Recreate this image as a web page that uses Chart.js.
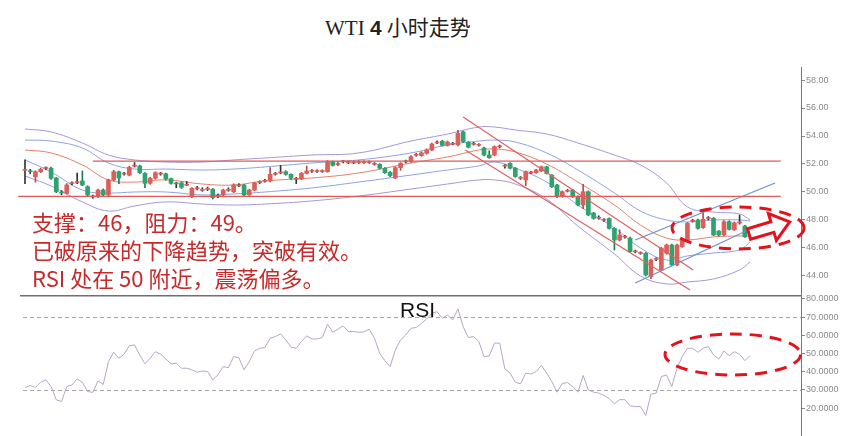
<!DOCTYPE html>
<html><head><meta charset="utf-8">
<script src="https://cdn.jsdelivr.net/npm/chart.js@4.4.1/dist/chart.umd.min.js"></script>
<style>
html,body{margin:0;padding:0;background:#fff;}
#wrap{position:relative;width:843px;height:436px;overflow:hidden;background:#fff;}
canvas{position:absolute;left:0;}
#title{position:absolute;left:325px;top:12px;font-size:21px;line-height:28px;color:#222;white-space:nowrap;}
#note{position:absolute;left:32px;top:207px;font-family:"Noto Sans CJK SC";font-size:22px;line-height:28px;color:#c62a2a;white-space:nowrap;}
#rsiLabel{position:absolute;left:400px;top:299px;font-family:"Liberation Sans";font-size:21px;line-height:21px;color:#111;}
</style></head>
<body>
<div id="wrap">
  <canvas id="price" width="843" height="235" style="top:60px"></canvas>
  <canvas id="rsi" width="843" height="141" style="top:295px"></canvas>
  <div id="title"><span style="font-family:'Liberation Serif'">WTI</span> <span style="font-family:'Liberation Sans';font-weight:bold">4</span> <span style="font-family:'Noto Sans CJK SC'">小时走势</span></div>
  <div id="note">支撑：46，阻力：49。<br>已破原来的下降趋势，突破有效。<br>RSI 处在 50 附近，震荡偏多。</div>
  <div id="rsiLabel">RSI</div>
</div>
<script>
// ---- candle data (4h bars, index = bar number) ----
const openP = [51.55,51.50,51.09,51.45,51.68,51.70,51.00,49.97,49.90,50.60,
50.68,50.79,50.38,49.69,49.67,50.14,49.79,50.86,51.45,51.28,
51.21,51.84,51.86,51.33,50.62,50.98,51.28,51.30,50.95,50.62,
50.65,50.48,49.67,50.24,50.12,50.18,50.20,49.69,49.79,50.12,
50.02,50.43,50.50,49.80,50.14,50.68,50.77,50.79,51.27,51.36,
51.45,51.26,50.91,50.93,51.33,51.48,51.46,51.46,51.45,52.17,
51.96,52.15,52.08,52.08,52.10,52.10,52.10,51.98,51.98,51.70,
51.40,51.00,51.74,52.15,52.17,52.62,52.60,52.76,53.00,53.50,
53.62,53.33,53.41,53.36,54.30,53.55,53.41,53.34,53.14,52.64,
52.64,53.22,51.84,52.05,51.70,50.98,50.86,51.36,51.38,51.50,
51.80,51.20,50.50,49.67,50.05,50.14,49.67,49.07,50.02,48.50,
48.12,47.98,48.10,47.40,46.57,46.77,46.70,45.72,45.60,45.62,
43.95,45.18,44.43,45.62,46.21,44.79,46.10,46.57,47.91,48.00,
47.45,48.10,48.12,47.20,46.93,47.88,47.30,47.79,47.57,47.27];
const highP = [52.30,51.62,51.52,51.70,51.80,51.78,51.05,50.10,50.60,50.72,
51.35,51.50,50.45,49.78,50.20,50.22,50.92,51.55,51.50,51.40,
51.85,52.10,51.92,51.38,51.05,51.45,51.40,51.35,51.00,50.70,
50.72,50.75,50.32,50.40,50.30,50.35,50.25,49.85,50.20,50.30,
50.58,50.60,50.55,50.20,50.70,50.80,50.90,51.74,51.40,51.90,
51.52,51.30,51.05,51.40,51.85,51.60,51.58,51.58,52.25,52.22,
52.10,52.25,52.20,52.20,52.22,52.22,52.22,52.10,52.02,51.75,
51.45,51.80,52.10,52.28,52.60,52.75,52.88,53.08,53.50,53.65,
53.70,53.64,53.55,54.40,54.36,53.60,53.55,53.45,53.20,52.95,
53.30,53.36,51.95,52.10,51.75,51.10,51.50,51.48,51.62,51.86,
51.85,51.25,50.55,50.08,50.18,50.20,49.72,50.55,50.08,48.55,
48.30,48.10,48.15,47.45,47.30,46.90,46.78,45.85,45.72,45.68,
45.20,45.30,46.05,46.28,46.28,46.28,46.64,47.82,48.05,48.06,
48.60,48.25,48.18,47.25,47.95,47.94,47.86,48.35,47.62,47.40];
const lowP = [50.60,51.30,50.70,51.38,51.60,50.90,49.95,49.80,49.85,50.50,
50.60,50.45,49.70,49.55,49.60,49.70,49.72,50.80,50.60,51.20,
51.15,51.78,51.30,50.30,50.55,50.92,51.20,50.85,50.55,50.30,
50.25,50.45,49.60,50.15,50.05,50.10,49.50,49.60,49.72,50.05,
49.95,50.38,49.72,49.75,50.08,50.60,50.70,50.72,51.20,51.30,
51.20,50.90,50.60,50.88,51.28,51.40,51.40,51.40,51.40,51.85,
51.90,52.08,52.02,52.02,52.04,52.04,52.04,51.92,51.65,51.32,
51.10,50.95,51.55,52.08,52.12,52.55,52.55,52.70,52.95,53.45,
53.28,53.28,53.36,53.30,53.55,53.15,53.35,53.28,52.58,52.40,
52.58,53.15,51.70,51.65,51.05,50.90,50.45,51.30,51.33,51.45,
51.28,50.32,49.60,49.62,50.00,49.60,49.00,48.80,48.30,48.05,
48.05,47.90,47.35,45.86,46.50,46.70,45.68,45.65,45.55,44.00,
43.80,45.10,44.38,45.55,44.72,44.72,46.04,46.50,47.85,47.35,
47.40,48.00,46.88,46.85,46.88,47.28,47.25,47.70,46.75,47.20];
const closeP = [51.60,51.45,51.45,51.62,51.72,50.98,50.02,49.93,50.50,50.64,
50.72,50.50,49.79,49.65,50.14,49.79,50.86,51.45,51.00,51.32,
51.76,51.88,51.38,50.62,50.98,51.38,51.32,50.93,50.62,50.58,
50.33,50.52,50.26,50.28,50.16,50.22,49.60,49.73,50.14,50.16,
50.50,50.47,49.79,50.14,50.64,50.72,50.81,51.26,51.31,51.40,
51.26,50.98,50.95,51.33,51.50,51.52,51.50,51.50,52.17,51.90,
52.00,52.19,52.12,52.12,52.14,52.14,52.14,52.02,51.70,51.38,
51.17,51.74,52.05,52.19,52.52,52.66,52.80,53.00,53.43,53.54,
53.33,53.57,53.45,54.19,53.60,53.20,53.45,53.38,52.64,52.45,
53.24,53.26,51.88,51.70,51.10,51.02,51.45,51.40,51.57,51.80,
51.33,50.38,49.67,50.02,50.09,49.67,49.07,50.02,48.36,48.12,
48.16,48.02,47.40,46.57,46.93,46.81,45.74,45.76,45.64,44.07,
45.14,45.22,45.98,46.21,44.79,46.21,46.57,47.76,47.95,47.40,
48.05,48.14,46.93,46.93,47.88,47.33,47.80,47.83,46.80,47.31];

// ---- Bollinger bands / moving average, read at key bars ----
const bandBars   = [0,5,11,16,21,27,34,40,46,55,64,74,81,87,90,94,100,106,113,118,123,127,132,137,139];
const outerUpper = [54.50,54.29,53.50,52.64,52.29,52.14,52.14,52.29,52.43,52.64,52.79,53.64,54.14,54.64,54.64,54.43,54.14,53.50,52.64,51.93,50.64,48.93,48.57,48.43,48.00];
const innerUpper = [53.71,53.64,53.14,52.07,51.64,51.64,51.57,51.64,51.79,52.07,52.29,52.79,53.36,53.64,53.71,53.57,52.79,51.57,49.93,48.64,48.00,47.86,48.00,48.00,47.93];
const midAvg     = [53.00,52.79,51.93,50.86,50.71,50.86,50.57,50.50,50.79,51.00,51.36,52.07,52.50,53.00,53.07,52.86,52.00,50.71,49.07,47.64,46.71,46.57,46.79,46.86,46.86];
const innerLower = [52.29,51.43,50.14,49.93,50.00,50.00,49.79,49.86,50.00,50.29,50.71,51.21,51.57,51.86,52.14,51.71,50.71,49.07,47.43,46.00,45.14,45.43,45.64,45.86,46.43];
const outerLower = [51.14,50.43,49.29,48.64,49.00,49.29,49.14,49.07,49.14,49.36,49.71,50.21,50.57,50.86,50.86,50.57,49.50,47.57,45.57,44.00,43.43,43.57,43.79,44.43,45.00];

// ---- analysis lines: [barStart, priceStart, barEnd, priceEnd] ----
const resistanceLine = [13.0, 52.21, 144.9, 52.21];
const supportLine    = [-1.3, 49.68, 144.9, 49.68];
const downUpper      = [84.0, 55.36, 128.1, 44.43];
const downLower      = [84.4, 53.00, 127.5, 43.00];
const upUpper        = [117.0, 46.57, 143.8, 50.64];
const upLower        = [117.0, 43.50, 140.3, 47.57];

// ---- RSI ----
const rsiValues = [31.3,32.4,31.3,34.2,35.5,31.8,24.5,23.6,31.8,32.7,
36.0,34.2,29.1,28.6,34.9,33.0,45.6,50.7,47.4,49.6,
54.3,54.7,49.2,44.3,47.4,51.0,49.6,47.0,44.3,44.7,
41.9,41.9,41.0,39.7,40.4,40.1,35.5,38.3,42.8,42.2,
48.3,47.7,41.0,45.6,51.4,52.9,53.3,58.4,59.3,60.8,
57.5,53.5,52.9,56.6,59.7,58.0,58.0,58.8,66.1,61.7,
63.4,65.2,62.1,62.1,61.7,61.9,63.4,58.4,50.2,46.0,
42.8,51.9,57.5,60.2,63.9,64.3,66.6,69.0,72.1,73.0,
69.4,71.2,68.5,74.5,64.8,58.8,59.3,56.6,48.3,48.7,
55.7,55.7,41.5,39.2,34.2,33.3,39.2,38.7,40.1,43.4,
39.2,34.6,28.7,33.5,34.0,31.8,28.7,37.9,30.0,28.7,
28.2,26.9,25.1,22.3,24.6,24.6,21.2,20.8,20.8,15.9,
27.6,28.2,37.3,38.2,31.8,41.9,48.3,52.9,52.9,50.7,
52.9,53.8,49.2,46.9,51.4,48.8,51.0,49.6,46.1,48.7];
const rsiLevels = [70, 30];

// ---- tick labels ----
const priceTicks = [44,46,48,50,52,54,56,58];
const rsiTicks = [20,30,40,50,60,70,80];

// ---- annotation marks (data units) ----
const priceEllipse = {bar:136.7, price:47.43, halfBars:12.65, halfPrice:1.5};
const priceArrow = {fromBar:138.8, fromPrice:47.0, toBar:146.6, toPrice:47.86};
const rsiEllipse = {bar:135.7, value:49.45, halfBars:13.0, halfValue:11.3};

// ---- layout ----
const X_MIN = -1.917, X_MAX = 148.77;
const UP_FILL = '#dc5f5a', DOWN_FILL = '#2ea36f';
const UP_WICK = '#b84a45', DOWN_WICK = '#1f7d52', FLAT_WICK = '#333333';

const bars = openP.map((_, i) => i);
const isFlat = i => Math.abs(closeP[i] - openP[i]) < 0.06;
const bodyColors = bars.map(i => closeP[i] >= openP[i] ? UP_FILL : DOWN_FILL);
const wickColors = bars.map(i => isFlat(i) ? FLAT_WICK : (closeP[i] >= openP[i] ? UP_WICK : DOWN_WICK));

function bandSet(vals, color) {
  return {type:'line', data: bandBars.map((b, k) => ({x:b, y:vals[k]})), borderColor: color,
    borderWidth: 1, pointRadius: 0, tension: 0.4, fill: false, order: 3};
}
function seg(arr, color, w) {
  return {type:'line', data: [{x:arr[0], y:arr[1]}, {x:arr[2], y:arr[3]}], borderColor: color,
    borderWidth: w, pointRadius: 0, tension: 0, fill: false, order: 0};
}
function drawEllipse(ctx, cx, cy, rx, ry) {
  ctx.save();
  ctx.beginPath();
  ctx.ellipse(cx, cy, rx, ry, 0, 0, Math.PI * 2);
  ctx.strokeStyle = '#e3121b';
  ctx.lineWidth = 3;
  ctx.setLineDash([12, 8]);
  ctx.stroke();
  ctx.restore();
}

const priceAnno = {
  id: 'priceAnno',
  afterDatasetsDraw(chart) {
    const {ctx, scales: {x, y}} = chart;
    const e = priceEllipse;
    const cx = x.getPixelForValue(e.bar), cy = y.getPixelForValue(e.price);
    drawEllipse(ctx, cx, cy, Math.abs(x.getPixelForValue(e.bar + e.halfBars) - cx), Math.abs(y.getPixelForValue(e.price + e.halfPrice) - cy));
    const a = priceArrow;
    const tx = x.getPixelForValue(a.fromBar), ty = y.getPixelForValue(a.fromPrice);
    const px = x.getPixelForValue(a.toBar), py = y.getPixelForValue(a.toPrice);
    const len = Math.hypot(px - tx, py - ty), ux = (px - tx) / len, uy = (py - ty) / len;
    const nx = -uy, ny = ux, head = 18, sh = 5.5, hh = 14;
    const bx = px - ux * head, by = py - uy * head;
    ctx.save();
    ctx.beginPath();
    ctx.moveTo(tx + nx * sh, ty + ny * sh);
    ctx.lineTo(bx + nx * sh, by + ny * sh);
    ctx.lineTo(bx + nx * hh, by + ny * hh);
    ctx.lineTo(px, py);
    ctx.lineTo(bx - nx * hh, by - ny * hh);
    ctx.lineTo(bx - nx * sh, by - ny * sh);
    ctx.lineTo(tx - nx * sh, ty - ny * sh);
    ctx.closePath();
    ctx.fillStyle = '#ffffff';
    ctx.fill();
    ctx.strokeStyle = '#e3121b';
    ctx.lineWidth = 3;
    ctx.lineJoin = 'miter';
    ctx.stroke();
    ctx.restore();
  }
};

const rsiAnno = {
  id: 'rsiAnno',
  beforeDatasetsDraw(chart) {
    const {ctx, chartArea, scales: {y}} = chart;
    ctx.save();
    ctx.strokeStyle = '#a8a8a8';
    ctx.lineWidth = 1;
    ctx.setLineDash([4, 3]);
    rsiLevels.forEach(v => {
      const py = Math.round(y.getPixelForValue(v)) + 0.5;
      ctx.beginPath(); ctx.moveTo(23, py); ctx.lineTo(chartArea.right, py); ctx.stroke();
    });
    ctx.setLineDash([]);
    ctx.strokeStyle = '#707070';
    ctx.lineWidth = 1.5;
    ctx.beginPath(); ctx.moveTo(20, 0.75); ctx.lineTo(chartArea.right, 0.75); ctx.stroke();
    ctx.restore();
  },
  afterDatasetsDraw(chart) {
    const {ctx, scales: {x, y}} = chart;
    const e = rsiEllipse;
    const cx = x.getPixelForValue(e.bar), cy = y.getPixelForValue(e.value);
    drawEllipse(ctx, cx, cy, Math.abs(x.getPixelForValue(e.bar + e.halfBars) - cx), Math.abs(y.getPixelForValue(e.value + e.halfValue) - cy));
  }
};

function rightAxis(min, max, tickVals, digits) {
  return {
    position: 'right', min, max,
    afterFit(s) { s.width = 42; s.paddingTop = 0; s.paddingBottom = 0; },
    afterBuildTicks(s) { s.ticks = tickVals.map(v => ({value: v})); },
    ticks: {callback: v => Number(v).toFixed(digits), font: {size: 9, family: 'Liberation Sans'}, color: '#8a8a8a', padding: 1},
    grid: {drawOnChartArea: false, drawTicks: true, tickLength: 4, color: '#888'},
    border: {display: true, color: '#777'}
  };
}

new Chart(document.getElementById('price'), {
  type: 'bar',
  data: {
    datasets: [
      bandSet(outerUpper, '#a597d8'),
      bandSet(innerUpper, '#8ea2e0'),
      bandSet(midAvg, '#e3806c'),
      bandSet(innerLower, '#8ea2e0'),
      bandSet(outerLower, '#a597d8'),
      seg(resistanceLine, '#e05a5a', 1.2),
      seg(supportLine, '#e05a5a', 1.2),
      seg(downUpper, '#e06060', 1.2),
      seg(downLower, '#e06060', 1.2),
      seg(upUpper, '#6f8fcc', 1.2),
      seg(upLower, '#6f8fcc', 1.2),
      {type: 'bar', data: bars.map(i => ({x: i, y: [lowP[i], highP[i]]})), backgroundColor: wickColors,
        barThickness: 1, grouped: false, order: 2, minBarLength: 1},
      {type: 'bar', data: bars.map(i => ({x: i, y: [openP[i], closeP[i]]})), backgroundColor: bodyColors,
        barThickness: 4, grouped: false, order: 1, minBarLength: 1}
    ]
  },
  options: {
    responsive: false, animation: false,
    layout: {padding: {left: 15, top: 7, right: 0, bottom: 0}},
    plugins: {legend: {display: false}, tooltip: {enabled: false}, title: {display: false}},
    scales: {
      x: {type: 'linear', min: X_MIN, max: X_MAX, display: false, offset: false},
      y: rightAxis(42.64, 58.93, priceTicks, 2)
    }
  },
  plugins: [priceAnno]
});

new Chart(document.getElementById('rsi'), {
  type: 'line',
  data: {
    datasets: [{data: rsiValues.map((v, i) => ({x: i, y: v})), borderColor: '#b9a5c4', borderWidth: 1,
      pointRadius: 0, tension: 0, fill: false}]
  },
  options: {
    responsive: false, animation: false,
    layout: {padding: {left: 15, top: 0, right: 0, bottom: 0}},
    plugins: {legend: {display: false}, tooltip: {enabled: false}},
    scales: {
      x: {type: 'linear', min: X_MIN, max: X_MAX, display: false, offset: false},
      y: rightAxis(4.6, 82.2, rsiTicks, 4)
    }
  },
  plugins: [rsiAnno]
});
</script>
</body></html>
